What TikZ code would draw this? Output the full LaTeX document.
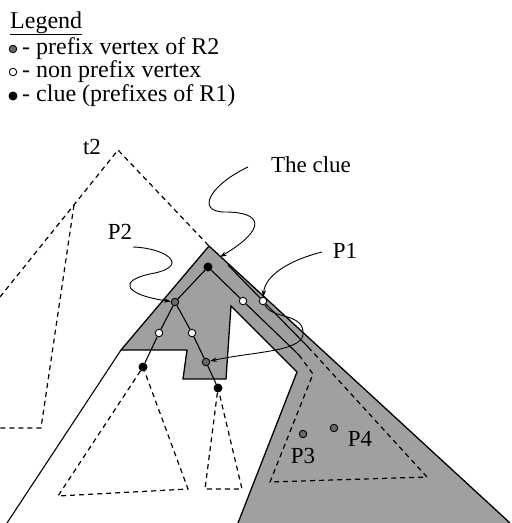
\documentclass[tikz,border=0pt]{standalone}
\usepackage{fontspec}
\setmainfont{Liberation Serif}
\usepackage{tikz}
\usetikzlibrary{arrows.meta, positioning}
\definecolor{shadeGray}{RGB}{160, 160, 160}
\definecolor{dotGray}{RGB}{105, 105, 105}

\begin{document}
\begin{tikzpicture}[
    x=1pt, y=-1pt,
    txt/.style={font=\fontsize{23}{26}\selectfont, inner sep=0pt},
    legtxt/.style={font=\fontsize{24}{27}\selectfont, inner sep=0pt, anchor=base west},
    pfxdot/.style={circle, draw=black, fill=dotGray, line width=0.9pt, inner sep=0pt, minimum size=7.5pt},
    nonpfx/.style={circle, draw=black, fill=white, line width=0.9pt, inner sep=0pt, minimum size=7.5pt},
    cluedot/.style={circle, fill=black, inner sep=0pt, minimum size=9pt},
    edge/.style={line width=1.1pt},
    outline/.style={line width=1.3pt, line join=miter},
    dashline/.style={dash pattern=on 5pt off 4pt, line width=1.2pt},
    pointer/.style={line width=0.9pt, -{Stealth[length=2.4mm, width=1.6mm]}}
  ]
    \useasboundingbox (0,0) rectangle (512,523);

    % legend
    \node[legtxt] (legend) at (10,28) {\underline{Legend}};
    \node[pfxdot] (lg1) at (13,49) {};
    \node[legtxt] (lt1) at (22,54) {- prefix vertex of R2};
    \node[nonpfx] (lg2) at (13,72) {};
    \node[legtxt] (lt2) at (22,77) {- non prefix vertex};
    \node[cluedot] (lg3) at (13,96) {};
    \node[legtxt] (lt3) at (22,101) {- clue (prefixes of R1)};

    % shaded part of the tree
    \coordinate (apex) at (209,246);
    \coordinate (lc) at (121,350);
    \coordinate (ic) at (297,372);
    \fill[shadeGray] (apex) -- (lc) -- (187,350) -- (183,379) -- (226,379) -- (231,306)
        -- (ic) -- (238,523) -- (510,523) -- cycle;
    \draw[outline] (510,523) -- (apex) -- (lc) -- (187,350) -- (183,379) -- (226,379)
        -- (231,306) -- (ic) -- (238,523);
    \draw[edge] (lc) -- (7,523);

    % t2
    \coordinate (t2top) at (118,150);
    \node[txt] (t2lbl) at (92,147) {t2};
    \draw[dashline] (0,297) -- (t2top) -- (apex);
    \draw[dashline] (74,205) -- (41,428) -- (0,428);

    % vertices
    \node[cluedot] (v0) at (208,267) {};
    \node[pfxdot] (p2) at (175,302) {};
    \node[nonpfx] (w1) at (159,333) {};
    \node[nonpfx] (w2) at (192,333) {};
    \node[cluedot] (b1) at (143,367) {};
    \node[pfxdot] (g2) at (206,362) {};
    \node[cluedot] (b2) at (218,388) {};
    \node[nonpfx] (w3) at (243,301) {};
    \node[nonpfx] (p1) at (263,301) {};
    \node[pfxdot] (p3) at (303,434) {};
    \node[pfxdot] (p4) at (334,428) {};

    \draw[edge] (v0) -- (p2);
    \draw[edge] (p2) -- (w1);
    \draw[edge] (w1) -- (b1);
    \draw[edge] (p2) -- (w2);
    \draw[edge] (w2) -- (g2);
    \draw[edge] (g2) -- (b2);
    \draw[edge] (v0) -- (w3);

    % subtrees
    \coordinate (aEnd) at (299,355);
    \coordinate (bStart) at (228,265);
    \coordinate (bEnd) at (309,348);
    \draw[edge] (w3) -- (aEnd);
    \draw[edge] (bStart) -- (p1);
    \draw[edge] (p1) -- (bEnd);
    \draw[dashline] (aEnd) -- (313,374) -- (270,482) -- (427,477) -- (bEnd);
    \draw[dashline] (b1) -- (58,496) -- (188,489) -- (b1);
    \draw[dashline] (b2) -- (205,489) -- (242,489) -- (b2);

    % labels
    \node[txt] (cluelbl) at (311,165) {The clue};
    \node[txt] (p2lbl) at (120,232) {P2};
    \node[txt] (p1lbl) at (345,251) {P1};
    \node[txt] (p3lbl) at (303,456) {P3};
    \node[txt] (p4lbl) at (360,439) {P4};

    % pointers
    \coordinate (cluefrom) at (248,167);
    \coordinate (cluetip) at (220,257);
    \coordinate (p2from) at (133,247);
    \coordinate (p1from) at (322,252);
    \draw[pointer] (cluefrom) .. controls (210,185) and (195,212) .. (225,212)
        .. controls (262,212) and (268,228) .. (cluetip);
    \draw[pointer] (p2from) .. controls (165,248) and (190,265) .. (155,273)
        .. controls (115,280) and (125,295) .. (p2);
    \draw[pointer] (p1from) .. controls (290,260) and (265,275) .. (p1);
    \draw[pointer] (p1) .. controls (272,320) and (305,312) .. (303,335)
        .. controls (300,352) and (250,352) .. (g2);
  \end{tikzpicture}
\end{document}
